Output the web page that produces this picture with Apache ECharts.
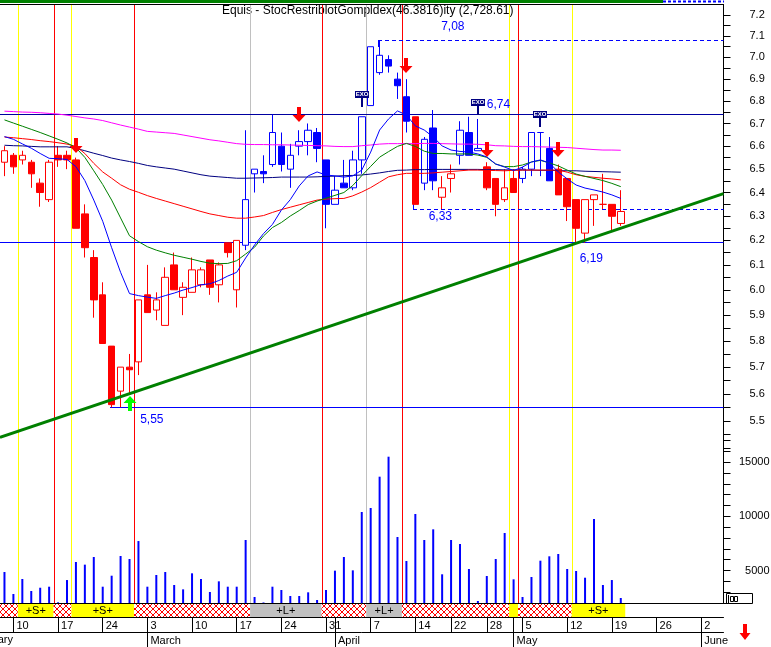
<!DOCTYPE html>
<html><head><meta charset="utf-8">
<script src="https://cdn.jsdelivr.net/npm/echarts@6/dist/echarts.min.js"></script>
<style>html,body{margin:0;padding:0;background:#fff}#c{width:771px;height:647px}</style>
</head><body><div id="c"></div>
<script>
// ---------------- DATA ----------------
const dates = [
'2003-02-07','2003-02-10','2003-02-11','2003-02-12','2003-02-13','2003-02-14',
'2003-02-17','2003-02-18','2003-02-19','2003-02-20','2003-02-21',
'2003-02-24','2003-02-25','2003-02-26','2003-02-27','2003-02-28',
'2003-03-03','2003-03-04','2003-03-05','2003-03-06','2003-03-07',
'2003-03-10','2003-03-11','2003-03-12','2003-03-13','2003-03-14',
'2003-03-17','2003-03-18','2003-03-19','2003-03-20','2003-03-21',
'2003-03-24','2003-03-25','2003-03-26','2003-03-27','2003-03-28',
'2003-03-31','2003-04-01','2003-04-02','2003-04-03','2003-04-04',
'2003-04-07','2003-04-08','2003-04-09','2003-04-10','2003-04-11',
'2003-04-14','2003-04-15','2003-04-16','2003-04-17',
'2003-04-22','2003-04-23','2003-04-24','2003-04-25',
'2003-04-28','2003-04-29','2003-04-30','2003-05-02',
'2003-05-05','2003-05-06','2003-05-07','2003-05-08','2003-05-09',
'2003-05-12','2003-05-13','2003-05-14','2003-05-15','2003-05-16',
'2003-05-19','2003-05-20',
'2003-05-21','2003-05-22','2003-05-23',
'2003-05-26','2003-05-27','2003-05-28','2003-05-29','2003-05-30',
'2003-06-02','2003-06-03','2003-06-04'];

const opens  = [6.53,6.56,6.54,6.53,6.44,6.37,6.56,6.56,6.54,6.31,6.13,5.98,5.78,5.61,5.70,5.72,5.98,5.92,5.86,6.10,
                5.97,5.99,6.02,6.12,6.02,6.19,6.00,6.18,6.48,6.49,6.52,6.60,6.50,6.60,6.62,6.66,6.54,6.35,6.44,6.42,
                6.54,6.78,6.93,6.99,6.90,6.82,6.73,6.44,6.68,6.38,6.46,6.56,6.66,6.58,6.51,6.46,6.37,6.46,6.46,6.50,
                6.66,6.59,6.50,6.46,6.37,6.23,6.37,6.35,6.35,6.27];
const closes = [6.58,6.51,6.56,6.48,6.40,6.53,6.54,6.54,6.25,6.17,5.96,5.79,5.56,5.70,5.69,5.96,5.91,5.96,6.05,6.00,
                6.01,6.08,6.08,6.01,6.10,6.15,6.20,6.37,6.50,6.48,6.66,6.52,6.56,6.62,6.67,6.59,6.35,6.41,6.42,6.54,
                6.73,7.05,7.01,6.96,6.87,6.71,6.35,6.63,6.45,6.42,6.48,6.67,6.56,6.59,6.42,6.35,6.42,6.40,6.50,6.66,
                6.66,6.45,6.39,6.34,6.25,6.37,6.39,6.35,6.30,6.32];
const lows   = [6.47,6.48,6.52,6.42,6.34,6.36,6.51,6.50,6.25,6.13,5.89,5.79,5.55,5.55,5.60,5.67,5.91,5.88,5.86,6.00,
                5.90,5.99,6.01,5.98,5.95,6.13,5.93,6.16,6.40,6.44,6.51,6.49,6.42,6.56,6.56,6.53,6.25,6.35,6.42,6.41,
                6.48,6.78,6.92,6.93,6.81,6.66,6.35,6.41,6.41,6.33,6.40,6.52,6.56,6.58,6.41,6.30,6.36,6.40,6.44,6.47,
                6.47,6.45,6.39,6.28,6.19,6.19,6.26,6.33,6.24,6.26];
const highs  = [6.60,6.57,6.58,6.54,6.46,6.54,6.60,6.58,6.55,6.35,6.16,6.03,5.78,5.70,5.75,5.96,6.10,5.99,6.09,6.15,
                6.03,6.13,6.09,6.12,6.11,6.19,6.20,6.67,6.50,6.56,6.74,6.66,6.61,6.67,6.70,6.68,6.54,6.47,6.54,6.58,
                6.73,7.05,7.08,7.01,6.93,6.90,6.73,6.64,6.76,6.47,6.52,6.71,6.73,6.72,6.53,6.46,6.50,6.50,6.51,6.66,
                6.66,6.64,6.52,6.46,6.37,6.37,6.39,6.48,6.35,6.41];
// r = red (short regime), b = blue (long regime)
const candleColors = ('rrrrrrrrrrrrrrrrrrrrrrrrrrr' + 'bbbbbbbbbbbbbbbbbbb' + 'r' + 'bb' + 'rr' + 'bbb' + 'rrrr' + 'bbbb' + 'rrrrrrrr').split('');

const volumes = [4860,2830,4215,3110,3410,3505,2065,4120,5785,5540,6245,3505,4520,6340,6060,7720,3505,4585,4860,3660,
                 3260,4740,4215,3015,4000,3505,3505,7815,2555,2050,3505,3200,2645,2645,2985,2277,3200,4985,6245,5015,
                 10400,10770,13660,15505,8090,5875,10215,7815,8800,4650,7815,7445,5140,2185,4490,6060,8460,4185,2555,4400,
                 5905,6310,6525,5140,4955,4335,9755,3660,4120,2460];

const maMagenta = [6.755,6.753,6.751,6.750,6.748,6.745,6.742,6.737,6.731,6.725,6.720,6.713,6.703,6.693,6.684,6.675,6.665,6.662,6.659,6.656,
                   6.649,6.642,6.635,6.628,6.623,6.617,6.611,6.608,6.607,6.607,6.606,6.606,6.605,6.604,6.603,6.602,6.601,6.599,6.598,6.598,
                   6.602,6.605,6.609,6.611,6.611,6.611,6.611,6.612,6.612,6.611,6.610,6.609,6.609,6.608,6.606,6.602,6.601,6.599,6.598,6.598,
                   6.597,6.596,6.595,6.594,6.591,6.588,6.585,6.583,6.583,6.582];
const maNavy = [6.604,6.602,6.601,6.599,6.597,6.597,6.597,6.597,6.590,6.580,6.569,6.559,6.548,6.540,6.533,6.525,6.516,6.510,6.505,6.500,
                6.492,6.484,6.476,6.470,6.467,6.464,6.461,6.461,6.462,6.463,6.464,6.466,6.466,6.466,6.466,6.467,6.469,6.470,6.472,6.473,
                6.475,6.479,6.484,6.490,6.495,6.496,6.498,6.498,6.499,6.499,6.499,6.499,6.499,6.499,6.498,6.498,6.497,6.497,6.496,6.496,
                6.495,6.495,6.494,6.493,6.493,6.491,6.490,6.489,6.488,6.487];
const maRed = [6.640,6.637,6.633,6.629,6.624,6.620,6.615,6.609,6.599,6.568,6.525,6.488,6.461,6.433,6.414,6.401,6.387,6.375,6.364,6.353,
               6.342,6.331,6.320,6.310,6.303,6.296,6.292,6.292,6.297,6.303,6.316,6.328,6.338,6.348,6.358,6.368,6.372,6.374,6.375,6.386,
               6.402,6.421,6.444,6.467,6.476,6.482,6.482,6.482,6.484,6.487,6.490,6.493,6.496,6.496,6.495,6.494,6.493,6.495,6.496,6.496,
               6.496,6.496,6.496,6.487,6.476,6.469,6.465,6.461,6.458,6.454];
const maGreen = [6.716,6.702,6.688,6.674,6.660,6.645,6.630,6.614,6.593,6.551,6.493,6.434,6.368,6.293,6.219,6.195,6.174,6.160,6.149,6.139,
                 6.131,6.123,6.114,6.107,6.105,6.106,6.117,6.144,6.172,6.218,6.253,6.274,6.301,6.324,6.349,6.364,6.376,6.388,6.400,6.430,
                 6.472,6.512,6.552,6.576,6.599,6.612,6.599,6.578,6.568,6.568,6.566,6.566,6.566,6.561,6.551,6.522,6.511,6.511,6.518,6.531,
                 6.538,6.527,6.514,6.496,6.479,6.469,6.460,6.451,6.439,6.425];
const maBlue = [6.642,6.630,6.610,6.591,6.568,6.547,6.545,6.542,6.511,6.451,6.368,6.279,6.170,6.070,5.985,5.977,5.971,5.966,5.977,5.987,
                5.999,6.009,6.020,6.024,6.037,6.055,6.070,6.128,6.181,6.228,6.266,6.326,6.370,6.428,6.471,6.488,6.475,6.471,6.466,6.471,
                6.496,6.574,6.671,6.720,6.756,6.738,6.689,6.671,6.640,6.601,6.583,6.577,6.574,6.566,6.553,6.522,6.509,6.494,6.509,6.531,
                6.540,6.527,6.488,6.458,6.432,6.419,6.411,6.402,6.390,6.375];

const priceTickLabels = [5.5,5.6,5.7,5.8,5.9,6.0,6.1,6.2,6.3,6.4,6.5,6.6,6.7,6.8,6.9,7.0,7.1,7.2];
const volumeTickLabels = [5000,10000,15000];

// price levels
const levelPrices = [7.08, 6.74, 6.33, 6.19, 5.55];
const levelLabels = ['7,08','6,74','6,33','6,19','5,55'];
const levelStart  = [42, -1, 46, -1, 12];     // candle index where the level starts (-1 = left edge)
const levelStubTo = [7.05, null, 6.35, null, null];
const levelLabelAt = [50.2, 55.3, 48.8, 65.7, 16.5];

// trend line anchors (candle index, price)
const trendIdx = [12, 64];
const trendPrice = [5.578, 6.188];

// signal lines at the left edge of these candles
const signalIdx  = [2, 6, 8, 15, 28, 36, 41, 45, 57, 58, 64];
const signalKind = ['Y','R','Y','R','G','R','G','R','Y','R','Y'];

// bottom regime band
const bandStart = [0, 2, 6, 8, 15, 28, 36, 41, 45, 57, 58, 64];
const bandEnd   = [1, 5, 7, 14, 27, 35, 40, 44, 56, 57, 63, 69];
const bandKind  = ['X','S','X','S','X','L','X','L','X','Y','X','S'];

// markers: D = down arrow, U = up arrow, E = EXO flag
const markerIdx   = [8, 33, 45, 54, 62, 14, 40, 53, 60];
const markerPrice = [6.569, 6.708, 6.927, 6.551, 6.551, 5.592, 6.772, 6.738, 6.686];
const markerType  = ['D','D','D','D','D','U','E','E','E'];

// ---------------- CHART ----------------
const FONT = '"Liberation Sans", Arial, sans-serif';
const RED = '#ff0000', BLUE = '#0000ff', NAVY = '#000080';
const SIGCOL = { Y: '#ffff00', R: '#ff0000', G: '#c0c0c0' };
const colorOf = { r: RED, b: BLUE };
const dd = dates.map(s => new Date(s + 'T00:00:00Z'));
const isWeekStart = dd.map((d, i) => i > 0 && d.getUTCDay() <= dd[i - 1].getUTCDay());
const isMonthStart = dd.map((d, i) => i > 0 && d.getUTCMonth() !== dd[i - 1].getUTCMonth());
const monthNames = ['January','February','March','April','May','June','July','August','September','October','November','December'];
const priceTicks = [];
for (let k = 108; k <= 144; k++) priceTicks.push(+(k * 0.05).toFixed(2));

const candleData = opens.map((o, i) => {
  const c = colorOf[candleColors[i]];
  const fill = closes[i] < opens[i] ? c : '#ffffff';
  return { value: [o, closes[i], lows[i], highs[i]],
    itemStyle: { color: fill, color0: fill, borderColor: c, borderColor0: c, borderColorDoji: c } };
});

function hatchCanvas() {
  const c = document.createElement('canvas'); c.width = 6; c.height = 6;
  const g = c.getContext('2d');
  g.fillStyle = '#ffffff'; g.fillRect(0, 0, 6, 6);
  g.strokeStyle = '#ff0000'; g.lineWidth = 1;
  g.beginPath(); g.moveTo(0, 0); g.lineTo(6, 6); g.moveTo(6, 0); g.lineTo(0, 6); g.stroke();
  return c;
}
const HATCH = hatchCanvas();

// 1px horizontal / vertical strokes as filled rects (solid or dashed)
function hRule(x0, x1, y, col, dashed) {
  const out = [];
  if (!dashed) { out.push({ type: 'rect', shape: { x: x0, y: y, width: x1 - x0, height: 1 }, style: { fill: col } }); return out; }
  for (let x = x0; x < x1; x += 7) out.push({ type: 'rect', shape: { x: x, y: y, width: Math.min(4, x1 - x), height: 1 }, style: { fill: col } });
  return out;
}
function vRule(x, y0, y1, col, dashed) {
  const a = Math.min(y0, y1), b = Math.max(y0, y1), out = [];
  if (!dashed) { out.push({ type: 'rect', shape: { x: x, y: a, width: 1, height: b - a }, style: { fill: col } }); return out; }
  for (let y = a; y < b; y += 7) out.push({ type: 'rect', shape: { x: x, y: y, width: 1, height: Math.min(4, b - y) }, style: { fill: col } });
  return out;
}

function signalRender(yRef) {
  return (params, api) => {
    const bw = api.coord([1, yRef])[0] - api.coord([0, yRef])[0];
    const x = Math.round(api.coord([api.value(0), yRef])[0] - bw / 2);
    const cs = params.coordSys;
    const col = SIGCOL[signalKind[params.dataIndex]];
    return { type: 'group', children: vRule(x, cs.y, cs.y + cs.height, col, false) };
  };
}

const chart = echarts.init(document.getElementById('c'), null, { renderer: 'canvas' });
const xBase = { type: 'category', data: dates, boundaryGap: true };
const gridBase = { left: 0, width: 723.5, containLabel: false, outerBoundsMode: 'none' };

const option = {
  animation: false,
  backgroundColor: '#ffffff',
  textStyle: { fontFamily: FONT },
  grid: [
    Object.assign({ top: 5, height: 450 }, gridBase),
    Object.assign({ top: 440.5, height: 162.5 }, gridBase),
    Object.assign({ top: 604, height: 13 }, gridBase)
  ],
  xAxis: [
    Object.assign({ gridIndex: 0, show: false }, xBase),
    Object.assign({ gridIndex: 1, axisLine: { show: true, lineStyle: { color: '#000' } },
      axisTick: { show: false }, axisLabel: { show: false }, splitLine: { show: false } }, xBase),
    Object.assign({ gridIndex: 2, position: 'bottom',
      axisLine: { show: true, lineStyle: { color: '#000' } },
      axisTick: { show: true, alignWithLabel: true, length: 15, lineStyle: { color: '#000' },
        interval: (i) => isWeekStart[i] || isMonthStart[i] },
      axisLabel: { show: true, interval: (i) => isWeekStart[i], align: 'left', margin: 3,
        padding: [0, 0, 0, 3], color: '#000', fontSize: 11, fontFamily: FONT,
        formatter: (v) => String(new Date(v + 'T00:00:00Z').getUTCDate()) },
      splitLine: { show: false } }, xBase),
    Object.assign({ gridIndex: 2, position: 'bottom', offset: 15,
      axisLine: { show: true, lineStyle: { color: '#000' } },
      axisTick: { show: true, alignWithLabel: true, length: 15, lineStyle: { color: '#000' },
        interval: (i) => isMonthStart[i] },
      axisLabel: { show: true, interval: (i) => isMonthStart[i], align: 'left', margin: 3,
        padding: [0, 0, 0, 3], color: '#000', fontSize: 11, fontFamily: FONT,
        formatter: (v) => monthNames[new Date(v + 'T00:00:00Z').getUTCMonth()] },
      splitLine: { show: false } }, xBase)
  ],
  yAxis: [
    { gridIndex: 0, type: 'log', min: 5.3772, max: 7.2479, position: 'right',
      axisLine: { show: true, lineStyle: { color: '#000' } },
      axisTick: { show: true, customValues: priceTicks, length: 7, lineStyle: { color: '#000' } },
      axisLabel: { show: true, customValues: priceTickLabels, margin: 26, color: '#000', fontSize: 11, fontFamily: FONT,
        formatter: (v) => Number(v).toFixed(1) },
      splitLine: { show: false } },
    { gridIndex: 1, type: 'value', min: 2000, max: 17000, interval: 1000, position: 'right',
      axisLine: { show: true, lineStyle: { color: '#000' } },
      axisTick: { show: true, length: 7, lineStyle: { color: '#000' } },
      axisLabel: { show: true, margin: 46, align: 'right', color: '#000', fontSize: 11, fontFamily: FONT,
        formatter: (v) => volumeTickLabels.indexOf(v) >= 0 ? String(v) : '' },
      splitLine: { show: false } },
    { gridIndex: 2, type: 'value', min: 0, max: 1, show: false }
  ],
  series: [
    // signal lines (price pane)
    { type: 'custom', xAxisIndex: 0, yAxisIndex: 0, z: 2, silent: true,
      data: signalIdx.map(i => [i, 6]), renderItem: signalRender(6) },
    // signal lines (volume pane)
    { type: 'custom', xAxisIndex: 1, yAxisIndex: 1, z: 2, silent: true,
      data: signalIdx.map(i => [i, 5000]), renderItem: signalRender(5000) },
    // price levels
    { type: 'custom', xAxisIndex: 0, yAxisIndex: 0, z: 2, silent: true,
      data: levelPrices.map((p, i) => [Math.max(levelStart[i], 0), p]),
      renderItem: (params, api) => {
        const i = params.dataIndex, cs = params.coordSys, p = levelPrices[i];
        const bw = api.coord([1, p])[0] - api.coord([0, p])[0];
        const y = Math.round(api.coord([0, p])[1] - 0.5);
        const x0 = levelStart[i] < 0 ? cs.x : Math.round(api.coord([levelStart[i], p])[0] - 2);
        const x1 = cs.x + cs.width;
        const dashed = (i === 0 || i === 2);
        const col = (i === 1) ? '#0000a0' : BLUE;
        let ch = hRule(x0, x1, y, col, dashed);
        if (levelStubTo[i] != null) {
          const y2 = Math.round(api.coord([0, levelStubTo[i]])[1]);
          ch = ch.concat(vRule(x0, y, y2, col, false));
        }
        const li = Math.floor(levelLabelAt[i]);
        const lx = api.coord([li, p])[0] + (levelLabelAt[i] - li) * bw;
        const dy = [-13, -9, 8, 17, 13][i];
        ch.push({ type: 'text', style: { text: levelLabels[i], x: lx, y: y + dy, align: 'center', verticalAlign: 'middle',
          font: '12px ' + FONT, fill: BLUE } });
        return { type: 'group', children: ch };
      } },
    // candles
    { type: 'candlestick', xAxisIndex: 0, yAxisIndex: 0, z: 3, barWidth: 7, data: candleData,
      itemStyle: { borderWidth: 1 } },
    // moving averages
    { type: 'line', xAxisIndex: 0, yAxisIndex: 0, z: 4, data: maMagenta, showSymbol: false, symbol: 'none',
      lineStyle: { color: '#ff00ff', width: 1 }, itemStyle: { color: '#ff00ff' } },
    { type: 'line', xAxisIndex: 0, yAxisIndex: 0, z: 4, data: maNavy, showSymbol: false, symbol: 'none',
      lineStyle: { color: NAVY, width: 1 }, itemStyle: { color: NAVY } },
    { type: 'line', xAxisIndex: 0, yAxisIndex: 0, z: 4, data: maRed, showSymbol: false, symbol: 'none',
      lineStyle: { color: RED, width: 1 }, itemStyle: { color: RED } },
    { type: 'line', xAxisIndex: 0, yAxisIndex: 0, z: 4, data: maGreen, showSymbol: false, symbol: 'none',
      lineStyle: { color: '#008000', width: 1 }, itemStyle: { color: '#008000' } },
    { type: 'line', xAxisIndex: 0, yAxisIndex: 0, z: 4, data: maBlue, showSymbol: false, symbol: 'none',
      lineStyle: { color: BLUE, width: 1 }, itemStyle: { color: BLUE } },
    // trend line
    { type: 'custom', xAxisIndex: 0, yAxisIndex: 0, z: 5, silent: true,
      data: [[trendIdx[0], trendPrice[0]]],
      renderItem: (params, api) => {
        const a = api.coord([trendIdx[0], trendPrice[0]]);
        const b = api.coord([trendIdx[1], trendPrice[1]]);
        const cs = params.coordSys, k = (b[1] - a[1]) / (b[0] - a[0]);
        const xs = cs.x, xe = cs.x + cs.width;
        return { type: 'line', shape: { x1: xs, y1: a[1] + k * (xs - a[0]), x2: xe, y2: a[1] + k * (xe - a[0]) },
          style: { stroke: '#008000', lineWidth: 3 } };
      } },
    // markers
    { type: 'custom', xAxisIndex: 0, yAxisIndex: 0, z: 6, silent: true,
      data: markerIdx.map((i, k) => [i, markerPrice[k]]),
      renderItem: (params, api) => {
        const t = markerType[params.dataIndex];
        const pt = api.coord([api.value(0), api.value(1)]);
        const x = Math.round(pt[0]), y = Math.round(pt[1]);
        if (t === 'D') {
          return { type: 'polygon', shape: { points: [[x - 2, y - 15], [x + 2, y - 15], [x + 2, y - 7], [x + 6.5, y - 7], [x, y], [x - 6.5, y - 7], [x - 2, y - 7]] },
            style: { fill: RED } };
        }
        if (t === 'U') {
          return { type: 'polygon', shape: { points: [[x, y], [x + 6.5, y + 7], [x + 2, y + 7], [x + 2, y + 15], [x - 2, y + 15], [x - 2, y + 7], [x - 6.5, y + 7]] },
            style: { fill: '#00ff00' } };
        }
        return { type: 'group', children: [
          { type: 'rect', shape: { x: x - 1, y: y - 10, width: 2, height: 10 }, style: { fill: NAVY } },
          { type: 'rect', shape: { x: x - 7, y: y - 16, width: 14, height: 7 }, style: { fill: NAVY } },
          { type: 'text', style: { text: 'EXO', x: x, y: y - 12.5, align: 'center', verticalAlign: 'middle',
            font: 'bold 6px ' + FONT, fill: '#ffffff' } }
        ] };
      } },
    // volume
    { type: 'bar', xAxisIndex: 1, yAxisIndex: 1, z: 3, data: volumes, barWidth: 2, itemStyle: { color: BLUE } },
    // regime band
    { type: 'custom', xAxisIndex: 2, yAxisIndex: 2, z: 3, silent: true,
      data: bandStart.map((s, i) => [s, 0.5]),
      renderItem: (params, api) => {
        const i = params.dataIndex, cs = params.coordSys;
        const bw = api.coord([1, 0.5])[0] - api.coord([0, 0.5])[0];
        const x0 = api.coord([bandStart[i], 0.5])[0] - bw / 2;
        const x1 = api.coord([bandEnd[i], 0.5])[0] + bw / 2;
        const k = bandKind[i];
        const fill = k === 'X' ? { image: HATCH, repeat: 'repeat' } : k === 'L' ? '#c0c0c0' : '#ffff00';
        const ch = [{ type: 'rect', shape: { x: x0, y: cs.y, width: x1 - x0, height: cs.height }, style: { fill: fill } }];
        if (k === 'S' || k === 'L') {
          ch.push({ type: 'text', style: { text: k === 'S' ? '+S+' : '+L+', x: (x0 + x1) / 2, y: cs.y + cs.height / 2 + 0.5,
            align: 'center', verticalAlign: 'middle', font: '11px ' + FONT, fill: '#000' } });
        }
        return { type: 'group', children: ch };
      } }
  ],
  graphic: [
    { type: 'rect', shape: { x: 0, y: 0, width: 663, height: 3 }, style: { fill: '#008000' }, silent: true },
    { type: 'line', shape: { x1: 663, y1: 1.5, x2: 724, y2: 1.5 }, style: { stroke: BLUE, lineWidth: 2, lineDash: [3, 2] }, silent: true },
    { type: 'line', shape: { x1: 0, y1: 4.5, x2: 724, y2: 4.5 }, style: { stroke: '#000', lineWidth: 1 }, silent: true },
    { type: 'text', x: 222, y: 11, silent: true,
      style: { text: 'Equis - StocRestriblotGompldex(46.3816)ity (2,728.61)', font: '12px ' + FONT, fill: '#000', verticalAlign: 'middle' } },
    { type: 'text', x: 13, y: 640, silent: true,
      style: { text: 'February', font: '11px ' + FONT, fill: '#000', align: 'right', verticalAlign: 'middle' } },
    { type: 'rect', shape: { x: 726.5, y: 593.5, width: 26, height: 10 }, style: { fill: '#fff', stroke: '#000', lineWidth: 1 }, silent: true },
    { type: 'line', shape: { x1: 728.5, y1: 595, x2: 728.5, y2: 603 }, style: { stroke: '#000', lineWidth: 1 }, silent: true },
    { type: 'rect', shape: { x: 730.5, y: 596.5, width: 3, height: 5 }, style: { fill: '#fff', stroke: '#000', lineWidth: 1 }, silent: true },
    { type: 'rect', shape: { x: 734.5, y: 596.5, width: 3, height: 5 }, style: { fill: '#fff', stroke: '#000', lineWidth: 1 }, silent: true },
    { type: 'polygon', shape: { points: [[743, 624], [747, 624], [747, 633], [750.5, 633], [745, 640], [739.5, 633], [743, 633]] },
      style: { fill: RED }, silent: true }
  ]
};
chart.setOption(option);
</script>
</body></html>
